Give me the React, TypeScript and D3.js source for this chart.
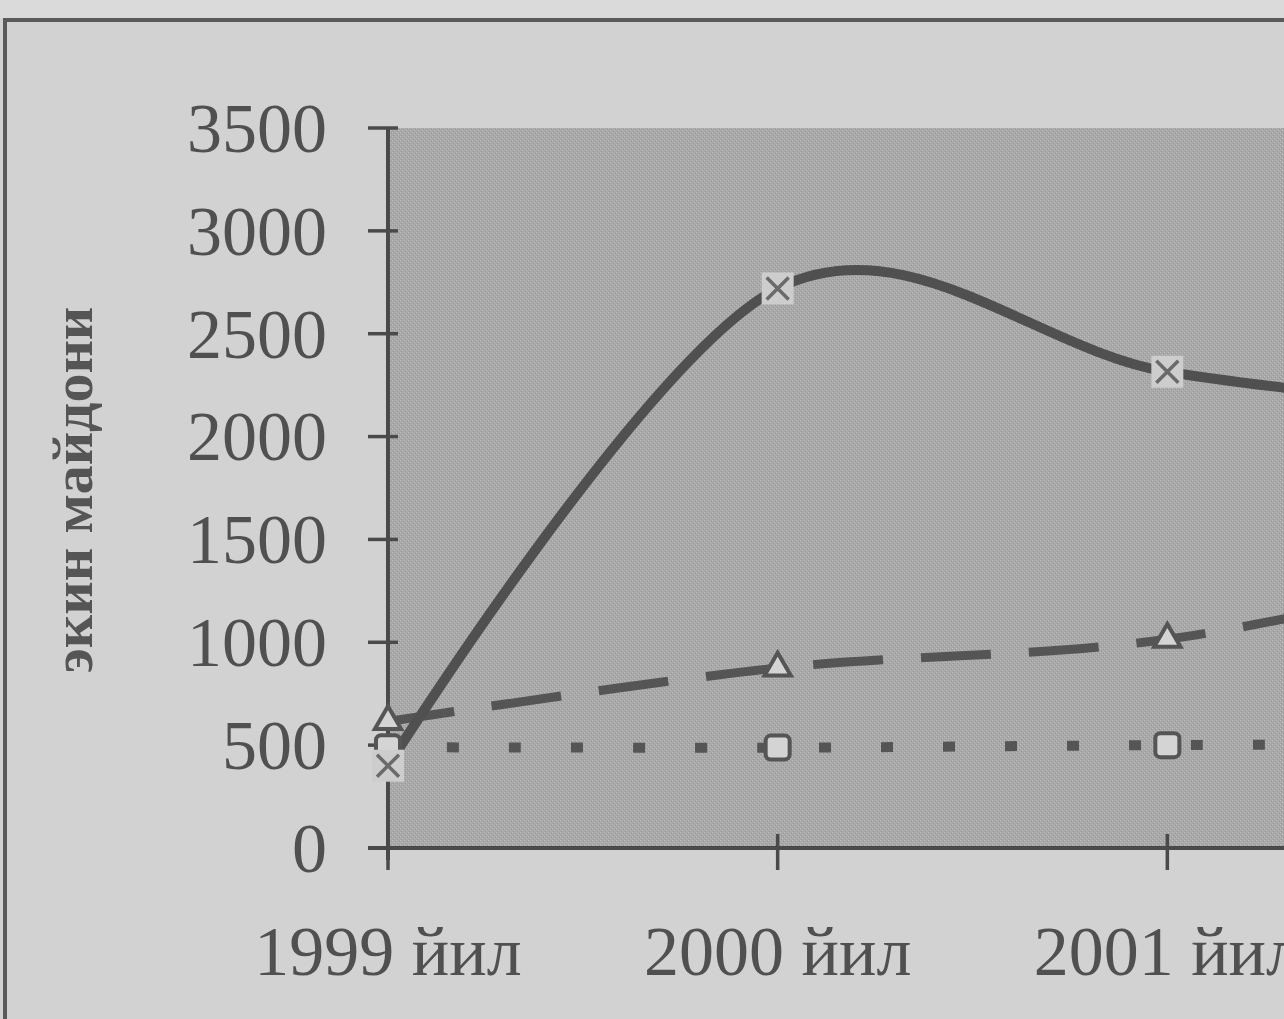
import * as d3 from 'd3';

// category labels and values (2002 is cut off on the right, estimated)
const years = ['1999', '2000', '2001', '2002'];
const yearLabels = ['1999 йил', '2000 йил', '2001 йил', '2002 йил'];
const solidSeries = [400, 2720, 2315, 2100];
const dashedSeries = [615, 875, 1015, 1400];
const dottedSeries = [490, 488, 500, 505];
const yTicks = [0, 500, 1000, 1500, 2000, 2500, 3000, 3500];
const yTitle = 'экин майдони';

const W = 1284;
const H = 1019;
const ink = '#4a4a4a';
const font = '"Liberation Serif", "DejaVu Serif", serif';

export default function App() {
  const x = d3.scalePoint<string>().domain(years).range([388, 1557]);
  const y = d3.scaleLinear().domain([0, 3500]).range([848, 128]);

  const line = d3
    .line<number>()
    .x((_, i) => x(years[i]) as number)
    .y((d) => y(d))
    .curve(d3.curveCardinal.tension(0));

  const triangle = d3.symbol(d3.symbolTriangle, 300)();

  return (
    <svg
      width={W}
      height={H}
      viewBox={`0 0 ${W} ${H}`}
      style={{ position: 'absolute', left: 0, top: 0, display: 'block' }}
    >
      <defs>
        <pattern id="dither" width="4" height="4" patternUnits="userSpaceOnUse">
          <rect width="4" height="4" fill="#a9a9a9" />
          <rect x="0" y="0" width="1" height="1" fill="#bdbdbd" />
          <rect x="2" y="2" width="1" height="1" fill="#bdbdbd" />
          <rect x="1" y="3" width="1" height="1" fill="#969696" />
          <rect x="3" y="1" width="1" height="1" fill="#969696" />
        </pattern>
      </defs>

      {/* paper */}
      <rect width={W} height={H} fill="#d2d2d2" />
      <rect x={0} y={0} width={W} height={18} fill="#dadada" />
      {/* chart frame */}
      <path d={`M5,${H} V20 H${W}`} fill="none" stroke="#5a5a5a" strokeWidth={4} />

      {/* plot area */}
      <rect x={390} y={y(3500)} width={W - 390} height={y(0) - y(3500)} fill="url(#dither)" />

      {/* y title */}
      <text
        transform="translate(92,490) rotate(-90)"
        textAnchor="middle"
        fontFamily={font}
        fontWeight="bold"
        fontSize={58}
        fill="#555"
      >
        {yTitle}
      </text>

      {/* y axis */}
      <line x1={388} x2={388} y1={y(3500)} y2={y(0) + 12} stroke={ink} strokeWidth={4} />
      {yTicks.map((t) => (
        <g key={t}>
          <line x1={368} x2={398} y1={y(t)} y2={y(t)} stroke={ink} strokeWidth={3.5} />
          <text
            x={327}
            y={y(t)}
            dy="0.34em"
            textAnchor="end"
            fontFamily={font}
            fontSize={70}
            fill="#505050"
          >
            {t}
          </text>
        </g>
      ))}

      {/* x axis */}
      <line x1={368} x2={W} y1={y(0)} y2={y(0)} stroke={ink} strokeWidth={4} />
      {years.map((yr, i) => (
        <g key={yr}>
          <line
            x1={x(yr)}
            x2={x(yr)}
            y1={y(0) - 14}
            y2={y(0) + 22}
            stroke={ink}
            strokeWidth={3.5}
          />
          <text
            x={x(yr)}
            y={975}
            textAnchor="middle"
            fontFamily={font}
            fontSize={70}
            fill="#505050"
          >
            {yearLabels[i]}
          </text>
        </g>
      ))}

      {/* series lines */}
      <path
        d={line(dottedSeries) || ''}
        fill="none"
        stroke="#555"
        strokeWidth={10}
        strokeDasharray="12 50"
        strokeDashoffset={3}
      />
      <path
        d={line(dashedSeries) || ''}
        fill="none"
        stroke="#555"
        strokeWidth={9}
        strokeDasharray="70 38"
        strokeDashoffset={3}
      />
      <path
        d={line(solidSeries) || ''}
        fill="none"
        stroke="#505050"
        strokeWidth={10}
        strokeLinecap="round"
      />

      {/* markers */}
      {dottedSeries.map((v, i) => (
        <rect
          key={`s${i}`}
          x={(x(years[i]) as number) - 12}
          y={y(v) - 12}
          width={24}
          height={24}
          rx={5}
          fill="#d4d4d4"
          stroke="#555"
          strokeWidth={4}
        />
      ))}
      {dashedSeries.map((v, i) => (
        <path
          key={`t${i}`}
          d={triangle || ''}
          transform={`translate(${x(years[i])},${y(v)})`}
          fill="#d4d4d4"
          stroke="#555"
          strokeWidth={4}
        />
      ))}
      {solidSeries.map((v, i) => {
        const cx = x(years[i]) as number;
        const cy = y(v);
        return (
          <g key={`x${i}`}>
            <rect x={cx - 16} y={cy - 16} width={32} height={32} fill="#cdcdcd" />
            <path
              d={`M${cx - 11},${cy - 11}L${cx + 11},${cy + 11}M${cx + 11},${cy - 11}L${cx - 11},${cy + 11}`}
              stroke="#6a6a6a"
              strokeWidth={3.5}
            />
          </g>
        );
      })}
    </svg>
  );
}
